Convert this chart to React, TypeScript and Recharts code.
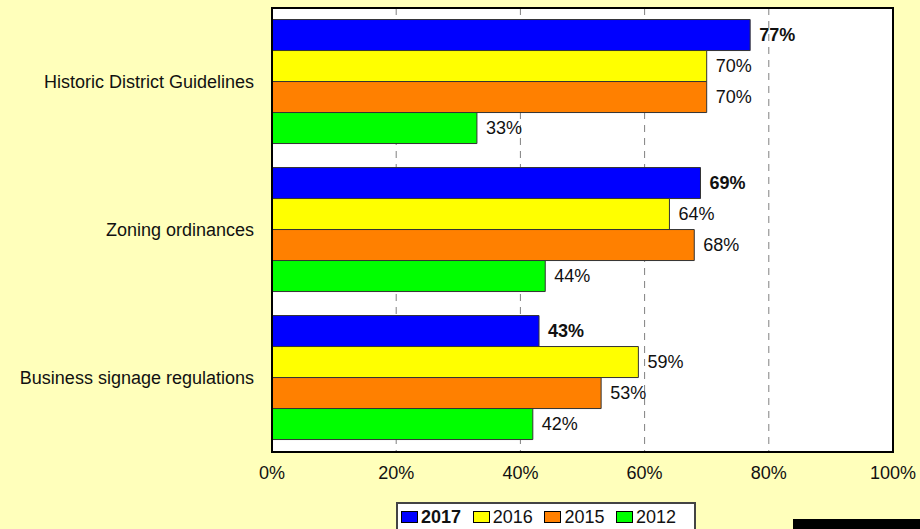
import React from 'react';
import {
  BarChart,
  Bar,
  XAxis,
  YAxis,
  CartesianGrid,
  LabelList,
  ReferenceArea,
} from 'recharts';

const categories = [
  'Historic District Guidelines',
  'Zoning ordinances',
  'Business signage regulations',
];
const values2017 = [77, 69, 43];
const values2016 = [70, 64, 59];
const values2015 = [70, 68, 53];
const values2012 = [33, 44, 42];
const xTicks = [0, 20, 40, 60, 80, 100];

const seriesKeys = ['y2017', 'y2016', 'y2015', 'y2012'];
const seriesNames = ['2017', '2016', '2015', '2012'];
const seriesColors = ['#0000FF', '#FFFF00', '#FF8000', '#00FF00'];

const data = categories.map((name, i) => ({
  name,
  y2017: values2017[i],
  y2016: values2016[i],
  y2015: values2015[i],
  y2012: values2012[i],
}));

const FONT = '"Liberation Sans", Arial, sans-serif';

export default function App() {
  return (
    <div
      style={{
        position: 'absolute',
        left: 0,
        top: 0,
        width: 920,
        height: 529,
        overflow: 'hidden',
        background: '#FFFFBB',
        fontFamily: FONT,
      }}
    >
      <BarChart
        width={920}
        height={529}
        data={data}
        layout="vertical"
        margin={{ top: 8, right: 27, bottom: 47, left: 0 }}
        barCategoryGap="7.8%"
        barGap={0}
      >
        <CartesianGrid
          horizontal={false}
          vertical={true}
          fill="#FFFFFF"
          stroke="#808080"
          strokeDasharray="7 6"
        />
        <XAxis
          type="number"
          domain={[0, 100]}
          ticks={xTicks}
          tickFormatter={(v: number) => `${v}%`}
          axisLine={{ stroke: '#000', strokeWidth: 2 }}
          tickLine={false}
          tickSize={0}
          tickMargin={14}
          height={30}
          tick={{ fill: '#111', fontSize: 18, fontFamily: FONT }}
          interval={0}
        />
        <YAxis
          type="category"
          dataKey="name"
          width={272}
          axisLine={{ stroke: '#000', strokeWidth: 2 }}
          tickLine={false}
          tickSize={0}
          tickMargin={18}
          tick={{ fill: '#111', fontSize: 18, fontFamily: FONT }}
          interval={0}
        />
        {seriesKeys.map((k, i) => (
          <Bar
            key={k}
            dataKey={k}
            name={seriesNames[i]}
            fill={seriesColors[i]}
            stroke="#333"
            strokeWidth={1}
            isAnimationActive={false}
          >
            <LabelList
              dataKey={k}
              position="right"
              offset={9}
              formatter={(v: number) => `${v}%`}
              style={{
                fill: '#111',
                fontSize: 18,
                fontFamily: FONT,
                fontWeight: i === 0 ? 'bold' : 'normal',
              }}
            />
          </Bar>
        ))}
        <ReferenceArea
          x1={0}
          x2={100}
          fill="none"
          fillOpacity={0}
          stroke="#000"
          strokeWidth={2}
          ifOverflow="visible"
        />
      </BarChart>
      <div
        style={{
          position: 'absolute',
          left: 396,
          top: 502,
          width: 300,
          height: 32,
          background: '#FFFFFF',
          border: '2px solid #444',
          display: 'flex',
          alignItems: 'flex-start',
          paddingLeft: 3,
          paddingTop: 2,
          boxSizing: 'border-box',
        }}
      >
        {seriesNames.map((n, i) => (
          <div
            key={n}
            style={{
              width: 71.7,
              flex: 'none',
              display: 'flex',
              alignItems: 'center',
              fontSize: 18,
              color: '#111',
              fontWeight: i === 0 ? 'bold' : 'normal',
              lineHeight: '22px',
            }}
          >
            <span
              style={{
                display: 'inline-block',
                width: 15,
                height: 10,
                background: seriesColors[i],
                border: '1px solid #000',
                marginRight: 3,
              }}
            />
            <span>{n}</span>
          </div>
        ))}
      </div>
      <div
        style={{
          position: 'absolute',
          left: 793,
          top: 519,
          width: 127,
          height: 10,
          background: '#000',
        }}
      />
    </div>
  );
}
